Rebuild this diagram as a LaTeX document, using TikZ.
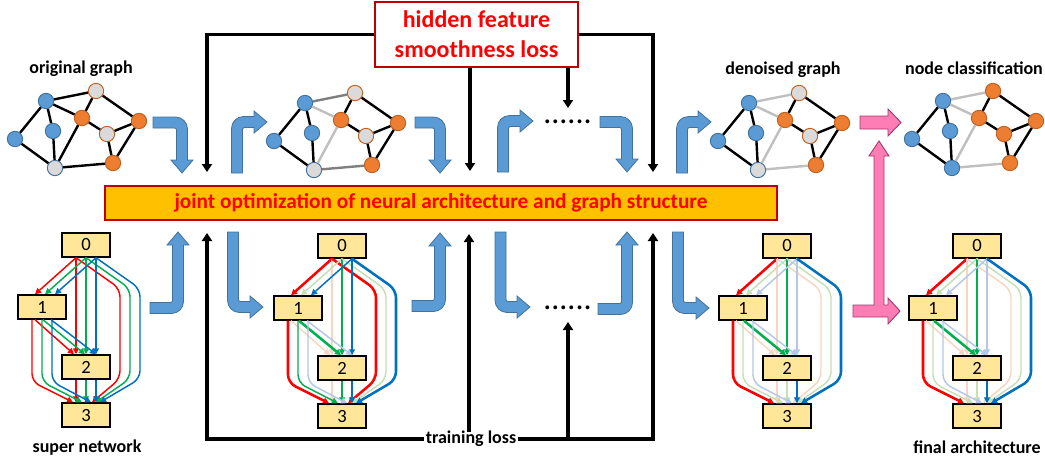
\documentclass[tikz,border=0pt]{standalone}
\usepackage{fontspec}
\setmainfont{Carlito}
\usetikzlibrary{arrows.meta,calc}

\definecolor{nblue}{HTML}{5B9BD5}
\definecolor{nblueb}{HTML}{41719C}
\definecolor{norange}{HTML}{ED7D31}
\definecolor{norangeb}{HTML}{C0601F}
\definecolor{ngrey}{HTML}{DADADA}
\definecolor{egrey}{HTML}{7F7F7F}
\definecolor{elight}{HTML}{BFBFBF}
\definecolor{boxyellow}{HTML}{FFE699}
\definecolor{baryellow}{HTML}{FFC000}
\definecolor{darkred}{HTML}{C00000}
\definecolor{cred}{HTML}{FF0000}
\definecolor{cgreen}{HTML}{00B050}
\definecolor{cblue}{HTML}{0070C0}
\definecolor{lred}{HTML}{F8D5C0}
\definecolor{lgreen}{HTML}{C5E0B4}
\definecolor{lblue}{HTML}{B4C7E7}
\definecolor{pinkf}{HTML}{FF7DB5}
\definecolor{pinkb}{HTML}{A3386B}

\tikzset{
  gn/.style={circle, inner sep=0pt, minimum size=11.5pt, line width=0.7pt},
  bnode/.style={gn, fill=nblue, draw=nblueb},
  onode/.style={gn, fill=norange, draw=norangeb},
  gnodeo/.style={gn, fill=ngrey, draw=norangeb},
  gnodeb/.style={gn, fill=ngrey, draw=nblueb},
  ge/.style={line width=1.8pt, draw=black},
  gmid/.style={line width=1.8pt, draw=egrey},
  glight/.style={line width=1.8pt, draw=elight},
  lab/.style={inner sep=1pt},
  cellbox/.style={draw=black, line width=1.1pt, fill=boxyellow, minimum width=36pt,
    minimum height=18pt, inner sep=0pt, font=\fontsize{14}{14}\selectfont\mdseries},
  tipd/.style={-{Triangle[length=4.5pt,width=4.5pt]}},
  Rf/.style={draw=cred, line width=1.1pt, tipd},
  Gf/.style={draw=cgreen, line width=1.1pt, tipd},
  Bf/.style={draw=cblue, line width=1.1pt, tipd},
  Rs/.style={draw=cred, line width=1.9pt, tipd},
  Gs/.style={draw=cgreen, line width=1.9pt, tipd},
  Bs/.style={draw=cblue, line width=1.9pt, tipd},
  Rl/.style={draw=lred, line width=1.1pt, tipd},
  Gl/.style={draw=lgreen, line width=1.1pt, tipd},
  Bl/.style={draw=lblue, line width=1.1pt, tipd},
  loss/.style={line width=2.6pt, -{Triangle[length=6pt,width=7.5pt]}},
  barrow/.style={fill=nblue, draw=nblueb, line width=0.6pt},
  pinka/.style={fill=pinkf, draw=pinkb, line width=0.7pt},
  dotsl/.style={inner sep=0pt, font=\fontsize{24}{24}\selectfont\mdseries},
}

% a small graph: #1 prefix, #2 offset, #3-#5 styles of the three uncertain nodes,
% #6 and #7 styles of the two groups of uncertain edges
\newcommand\netgraph[7]{%
  \begin{scope}[shift={(#2)}]
    \node[bnode] (#1b1) at (46,101) {};
    \node[#3] (#1g1) at (96,91) {};
    \node[onode] (#1o1) at (82,118) {};
    \node[onode] (#1o2) at (139,121) {};
    \node[#4] (#1g2) at (107,134) {};
    \node[bnode] (#1bl) at (15,139) {};
    \node[bnode] (#1bm) at (53,131) {};
    \node[#5] (#1g3) at (55,168) {};
    \node[onode] (#1o3) at (113,163) {};
  \end{scope}
  \draw[#6] (#1b1) -- (#1g1);
  \draw[#7] (#1b1) -- (#1o1);
  \draw[ge] (#1b1) -- (#1bl);
  \draw[ge] (#1b1) -- (#1bm);
  \draw[ge] (#1g1) -- (#1o1);
  \draw[ge] (#1g1) -- (#1o2);
  \draw[ge] (#1o1) -- (#1g2);
  \draw[#7] (#1o1) -- (#1g3);
  \draw[ge] (#1g2) -- (#1o2);
  \draw[ge] (#1g2) -- (#1o3);
  \draw[ge] (#1o2) -- (#1o3);
  \draw[ge] (#1bl) -- (#1g3);
  \draw[ge] (#1bm) -- (#1g3);
  \draw[#6] (#1g3) -- (#1o3);
}

% the edges of one colour in a cell: #1 prefix, #2 colour tag, #3 offset
\newcommand\celledges[3]{%
  \draw[e01#2] ($(#1n0.south)+(#3,0)$) -- ($(#1n1.north)+(#3+3,0)$);
  \draw[e02#2] ($(#1n0.south)+(#3,0)$) -- ($(#1n2.north)+(#3,0)$);
  \draw[e03#2,rounded corners=6pt] ($(#1n0.south)+(#3,0)$) -- ($(#1n0.south)+(44+#3,31)$)
     -- ($(#1n0.south)+(44+#3,121)$) -- ($(#1n3.north)+(10+0.4*#3,0)$);
  \draw[e12#2] ($(#1n1.south)+(0.8*#3+1,0)$) -- ($(#1n2.north)+(1.1*#3-1,0)$);
  \draw[e13#2,rounded corners=6pt] ($(#1n1.south)+(#3,0)$) -- ($(#1n1.south)+(#3,62)$)
     -- ($(#1n3.north)+(0.9*#3-4,0)$);
  \draw[e23#2] ($(#1n2.south)+(#3,0)$) -- ($(#1n3.north)+(#3,0)$);
}

% a cell with four operation nodes: #1 prefix, #2 centre of node 0
\newcommand\celldag[2]{%
  \begin{scope}[shift={(#2)}]
    \node[cellbox] (#1n0) at (0,0) {0};
    \node[cellbox] (#1n1) at (-44,62) {1};
    \node[cellbox] (#1n2) at (0,122) {2};
    \node[cellbox] (#1n3) at (0,170) {3};
  \end{scope}
  \celledges{#1}{r}{-10}\celledges{#1}{g}{0}\celledges{#1}{b}{10}%
}

% bent block arrow: #1 tip, #2 lead direction, #3 head direction,
% #4 lead length, #5 head leg length
\newcommand\bentarrow[5]{%
  \begin{scope}[shift={(#1)}, x={#2}, y={#3}]
    \filldraw[barrow] (-#4,-#5-5.5) -- (-6.5,-#5-5.5)
      .. controls (0.1,-#5-5.5) and (5.5,-#5-0.1) .. (5.5,-#5+6.5)
      -- (5.5,-13) -- (11,-13) -- (0,0) -- (-11,-13) -- (-5.5,-13)
      -- (-5.5,-#5+7.5) .. controls (-5.5,-#5+6.4) and (-6.4,-#5+5.5) .. (-7.5,-#5+5.5)
      -- (-#4,-#5+5.5) -- cycle;
  \end{scope}%
}

\begin{document}
\begin{tikzpicture}[x=0.75pt, y=-0.75pt, font=\fontsize{13.5}{16}\selectfont\bfseries]
\useasboundingbox (0,0) rectangle (1045,461);

% loss boxes and the optimisation bar
\node[draw=darkred, line width=1.5pt, fill=white, minimum width=152pt, minimum height=48.75pt,
  align=center, inner sep=0pt, font=\fontsize{18}{22.5}\selectfont\bfseries, text=cred]
  (hfl) at (476.5,34.5) {hidden feature\\smoothness loss};
\node[draw=darkred, line width=1.5pt, fill=baryellow, minimum width=504pt, minimum height=25.5pt,
  inner sep=0pt, font=\fontsize{16}{16}\selectfont\bfseries, text=cred]
  (bar) at (441,203) {joint optimization of neural architecture and graph structure};
\node[lab] (tloss) at (471,439) {training loss};

% ends of the loss arrows
\coordinate (inL) at (207,172);
\coordinate (inM) at (470,171);
\coordinate (inD) at (568,108);
\coordinate (inR) at (653,172);
\coordinate (upL) at (207,233);
\coordinate (upM) at (469,234);
\coordinate (upD) at (568,322);
\coordinate (upR) at (653,233);

\draw[loss] (hfl.west) -| (inL);
\draw[loss] (hfl.east) -| (inR);
\draw[loss] (hfl.south -| inM) -- (inM);
\draw[loss] (hfl.south -| inD) -- (inD);
\draw[loss] (tloss.west) -| (upL);
\draw[loss] (tloss.east) -| (upR);
\draw[loss] ([yshift=-2pt]tloss.north -| upM) -- (upM);
\draw[loss] (tloss.east -| upD) -- (upD);

\node[dotsl] (dtop) at (567.5,122) {......};
\node[dotsl] (dbot) at (567.5,308) {......};

% labels
\node[lab] (lorig) at (81,69) {original graph};
\node[lab] (lden) at (783,70) {denoised graph};
\node[lab] (lcls) at (974,68) {node classification};
\node[lab] (lsup) at (87,448) {super network};
\node[lab] (lfin) at (977,447) {final architecture};

% graphs
\netgraph{ga}{0,0}{gnodeo}{gnodeo}{gnodeb}{ge}{ge}
\netgraph{gb}{259,2}{gnodeo}{gnodeo}{gnodeb}{gmid}{glight}
\netgraph{gc}{703,2}{gnodeo}{gnodeo}{gnodeb}{glight}{glight}
\netgraph{gd}{897,0}{onode}{onode}{bnode}{glight}{glight}

% cells
\begin{scope}[e01r/.style=Rf, e01g/.style=Gf, e01b/.style=Bf,
  e02r/.style=Rf, e02g/.style=Gf, e02b/.style=Bf,
  e03r/.style=Rf, e03g/.style=Gf, e03b/.style=Bf,
  e12r/.style=Rf, e12g/.style=Gf, e12b/.style=Bf,
  e13r/.style=Rf, e13g/.style=Gf, e13b/.style=Bf,
  e23r/.style=Rf, e23g/.style=Gf, e23b/.style=Bf]
  \celldag{ca}{86,245}
\end{scope}
\begin{scope}[e01r/.style=Rs, e01g/.style=Gl, e01b/.style=Bf,
  e02r/.style=Rl, e02g/.style=Gs, e02b/.style=Bf,
  e03r/.style=Rs, e03g/.style=Gl, e03b/.style=Bs,
  e12r/.style=Rl, e12g/.style=Gs, e12b/.style=Bl,
  e13r/.style=Rs, e13g/.style=Gf, e13b/.style=Bl,
  e23r/.style=Rl, e23g/.style=Gf, e23b/.style=Bs]
  \celldag{cb}{342,246}
\end{scope}
\begin{scope}[e01r/.style=Rs, e01g/.style=Gl, e01b/.style=Bl,
  e02r/.style=Rl, e02g/.style=Gs, e02b/.style=Bl,
  e03r/.style=Rl, e03g/.style=Gl, e03b/.style=Bs,
  e12r/.style=Rl, e12g/.style=Gs, e12b/.style=Bl,
  e13r/.style=Rs, e13g/.style=Gl, e13b/.style=Bl,
  e23r/.style=Rl, e23g/.style=Gl, e23b/.style=Bs]
  \celldag{cc}{787,246}
  \celldag{cd}{977,246}
\end{scope}

% blue bent arrows, upper row
\bentarrow{182,173}{(0.75pt,0pt)}{(0pt,-0.75pt)}{29}{50.5}
\bentarrow{440,173}{(0.75pt,0pt)}{(0pt,-0.75pt)}{25}{50.5}
\bentarrow{627,172}{(0.75pt,0pt)}{(0pt,-0.75pt)}{27}{50}
\bentarrow{267,122}{(0pt,0.75pt)}{(0.75pt,0pt)}{51}{30}
\bentarrow{533,121}{(0pt,0.75pt)}{(0.75pt,0pt)}{51}{30}
\bentarrow{711,122}{(0pt,0.75pt)}{(0.75pt,0pt)}{51}{29}
% blue bent arrows, lower row
\bentarrow{178,232}{(0.75pt,0pt)}{(0pt,0.75pt)}{28}{76}
\bentarrow{440,233}{(0.75pt,0pt)}{(0pt,0.75pt)}{28}{73}
\bentarrow{627,232}{(0.75pt,0pt)}{(0pt,0.75pt)}{29}{77}
\bentarrow{263,307}{(0pt,-0.75pt)}{(0.75pt,0pt)}{75}{30}
\bentarrow{530,307}{(0pt,-0.75pt)}{(0.75pt,0pt)}{75}{29.5}
\bentarrow{709,308}{(0pt,-0.75pt)}{(0.75pt,0pt)}{76}{31}

% pink arrows towards the classification and the final architecture
\filldraw[pinka] (860,116) -- (888,116) -- (888,109) -- (901,122.5) -- (888,136)
  -- (888,129) -- (860,129) -- cycle;
\filldraw[pinka] (853,305) -- (874,305) -- (874,156) -- (869,156) -- (879,141) -- (889,156)
  -- (884,156) -- (884,305) -- (888,305) -- (888,298) -- (900,311) -- (888,324)
  -- (888,317) -- (853,317) -- cycle;
\end{tikzpicture}
\end{document}
